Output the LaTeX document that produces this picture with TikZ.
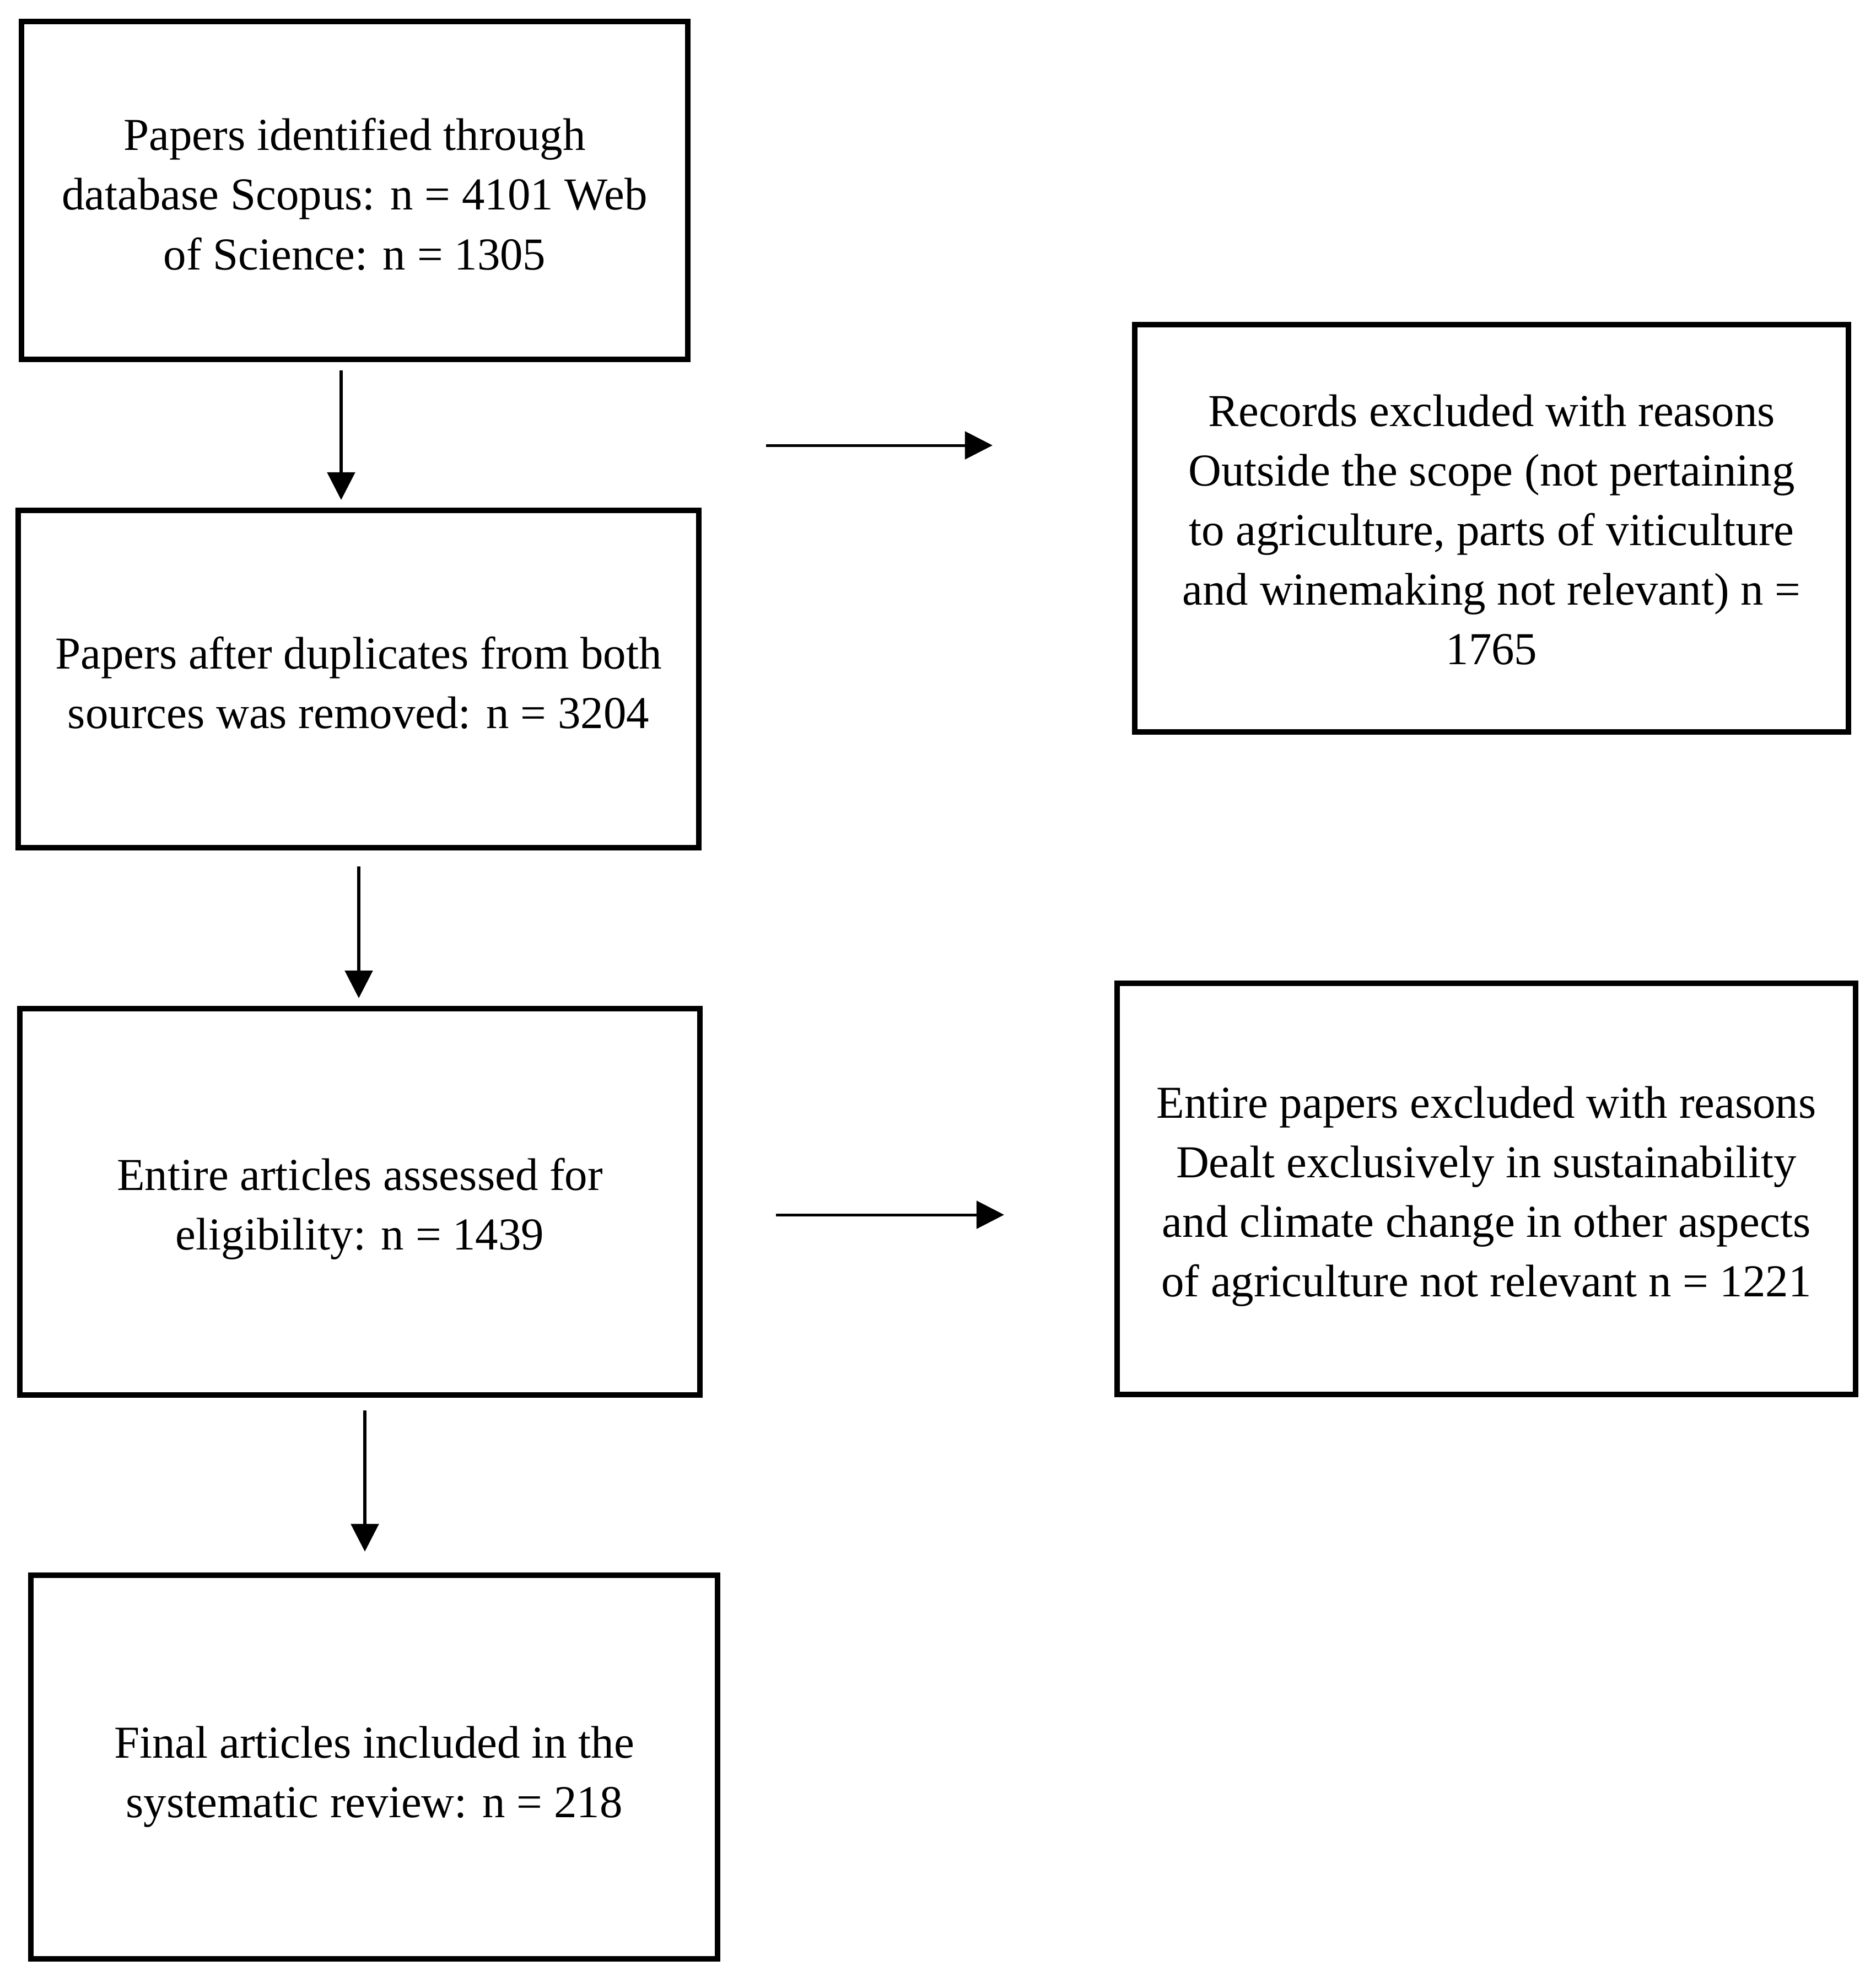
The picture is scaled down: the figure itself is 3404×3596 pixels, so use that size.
\documentclass[tikz,border=0pt]{standalone}
\usepackage{fontspec}
\setmainfont{Liberation Serif}
\usetikzlibrary{arrows.meta}
\newcommand{\fctext}[2]{\raisebox{0pt}[\dimexpr\height+#1\relax][\depth]{\begin{tabular}{@{}c@{}}#2\end{tabular}}}
\tikzset{
  flowbox/.style={draw=black, line width=1.33pt, rectangle, inner sep=0pt, outer sep=0pt,
    font=\fontsize{11.05}{14.4}\selectfont},
  arr/.style={draw=black, line width=0.67pt, -{Triangle[length=6.67pt,width=6.67pt]}}
}
\begin{document}
\begin{tikzpicture}[x=0.1333pt,y=-0.1333pt]
\useasboundingbox (0,0) rectangle (3404,3596);
\node[flowbox, minimum width=1209*0.1333pt, minimum height=613*0.1333pt] (b1) at (643.5,345.5)
  {\fctext{3.7pt}{Papers identified through\\database Scopus: n = 4101 Web\\of Science: n = 1305}};
\node[flowbox, minimum width=1235*0.1333pt, minimum height=612*0.1333pt] (b2) at (650.5,1232)
  {\fctext{3.7pt}{Papers after duplicates from both\\sources was removed: n = 3204}};
\node[flowbox, minimum width=1234*0.1333pt, minimum height=701*0.1333pt] (b3) at (653,2180.5)
  {\fctext{3.1pt}{Entire articles assessed for\\eligibility: n = 1439}};
\node[flowbox, minimum width=1246*0.1333pt, minimum height=696*0.1333pt] (b4) at (679,3206)
  {\fctext{4.3pt}{Final articles included in the\\systematic review: n = 218}};
\node[flowbox, minimum width=1295*0.1333pt, minimum height=739*0.1333pt] (r1) at (2706.5,958.5)
  {\fctext{2.4pt}{Records excluded with reasons\\Outside the scope (not pertaining\\to agriculture, parts of viticulture\\and winemaking not relevant) n =\\1765}};
\node[flowbox, minimum width=1340*0.1333pt, minimum height=746*0.1333pt] (r2) at (2697,2157)
  {\fctext{3.1pt}{Entire papers excluded with reasons\\Dealt exclusively in sustainability\\and climate change in other aspects\\of agriculture not relevant n = 1221}};
\coordinate (h1s) at (1390,808);
\coordinate (h2s) at (1408,2204);
\draw[arr] ([shift={(-24.5,20)}]b1.south) -- ([shift={(-31.5,-19)}]b2.north);
\draw[arr] ([shift={(0.5,34)}]b2.south) -- ([shift={(-2,-19)}]b3.north);
\draw[arr] ([shift={(9,28)}]b3.south) -- ([shift={(-17,-43)}]b4.north);
\draw[arr] (h1s) -- ([shift={(-258,-150.5)}]r1.west);
\draw[arr] (h2s) -- ([shift={(-205,47)}]r2.west);
\end{tikzpicture}
\end{document}
